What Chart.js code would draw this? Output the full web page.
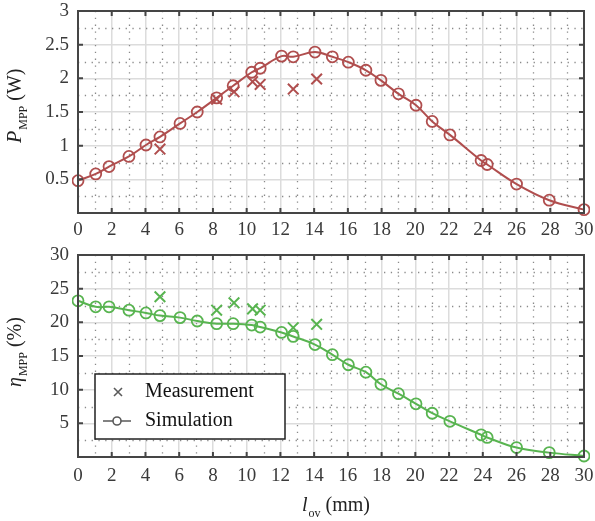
<!DOCTYPE html>
<html>
<head>
<meta charset="utf-8">
<script src="https://cdn.jsdelivr.net/npm/chart.js@4"></script>
<style>
    body { margin: 0; background: #fff; }
    canvas { position: absolute; left: 0; }
</style>
</head>
<body>
<canvas id="power-chart" width="595" height="245" style="top:0"></canvas>
<canvas id="eff-chart" width="595" height="276" style="top:245px"></canvas>
<script>
// overlap length l_ov (mm)
var lovSim = [0, 1.05, 1.84, 3.02, 4.03, 4.86, 6.05, 7.07, 8.22, 9.2, 10.3, 10.8, 12.07, 12.76, 14.05,
    15.08, 16.03, 17.07, 17.96, 19.0, 20.04, 21.0, 22.05, 23.9, 24.26, 26.0, 27.94, 30];
var pSim = [0.48, 0.58, 0.69, 0.84, 1.01, 1.13, 1.33, 1.5, 1.71, 1.89, 2.09, 2.15, 2.33, 2.32, 2.39,
    2.32, 2.24, 2.12, 1.97, 1.77, 1.6, 1.36, 1.16, 0.78, 0.72, 0.43, 0.19, 0.05];
var etaSim = [23.2, 22.3, 22.3, 21.8, 21.4, 21.0, 20.7, 20.2, 19.8, 19.8, 19.6, 19.3, 18.5, 17.9, 16.7,
    15.2, 13.7, 12.6, 10.8, 9.4, 7.9, 6.5, 5.3, 3.3, 2.9, 1.4, 0.65, 0.15];

var lovMeas = [4.86, 8.22, 9.25, 10.35, 10.8, 12.76, 14.15];
var pMeas = [0.95, 1.69, 1.8, 1.95, 1.91, 1.84, 1.99];
var etaMeas = [23.8, 21.8, 22.9, 22.0, 21.8, 19.2, 19.7];

var xTicks = [0, 2, 4, 6, 8, 10, 12, 14, 16, 18, 20, 22, 24, 26, 28, 30];
var pTicks = [0.5, 1, 1.5, 2, 2.5, 3];
var etaTicks = [5, 10, 15, 20, 25, 30];

var SERIF = "'Liberation Serif', 'DejaVu Serif', serif";
var RED = "#b04e4e";
var GREEN = "#58b450";

function pts(xs, ys) {
    return xs.map(function (x, i) { return { x: x, y: ys[i] }; });
}

// draw text with italic symbol + subscript + normal rest
function drawLabel(ctx, sym, sub, rest) {
    ctx.textBaseline = "alphabetic";
    ctx.textAlign = "left";
    ctx.font = "italic 20px " + SERIF;
    ctx.fillText(sym, 0, 0);
    var w = ctx.measureText(sym).width;
    ctx.font = "12px " + SERIF;
    ctx.fillText(sub, w + 1, 6);
    w += ctx.measureText(sub).width + 1;
    ctx.font = "20px " + SERIF;
    ctx.fillText(rest, w, 0);
}

var framePlugin = {
    id: "frame",
    beforeDatasetsDraw: function (chart, args, o) {
        var ctx = chart.ctx, a = chart.chartArea;
        var xs = chart.scales.x, ys = chart.scales.y;
        ctx.save();
        ctx.strokeStyle = "#8a8a8a";
        ctx.lineWidth = 1.3;
        ctx.setLineDash([1.3, 5.5]);
        for (var x = 1; x < 30; x += 2) {
            var px = Math.round(xs.getPixelForValue(x)) + 0.5;
            ctx.beginPath(); ctx.moveTo(px, a.top); ctx.lineTo(px, a.bottom); ctx.stroke();
        }
        for (var y = o.minor; y < o.max; y += o.minor * 2) {
            var py = Math.round(ys.getPixelForValue(y)) + 0.5;
            ctx.beginPath(); ctx.moveTo(a.left, py); ctx.lineTo(a.right, py); ctx.stroke();
        }
        ctx.restore();
    },
    afterDatasetsDraw: function (chart, args, o) {
        var ctx = chart.ctx, a = chart.chartArea;
        var xs = chart.scales.x, ys = chart.scales.y;
        ctx.save();
        ctx.strokeStyle = "#454545";
        ctx.lineWidth = 2;
        ctx.strokeRect(a.left, a.top, a.right - a.left, a.bottom - a.top);
        ctx.beginPath();
        xTicks.forEach(function (t) {
            var px = xs.getPixelForValue(t);
            ctx.moveTo(px, a.top); ctx.lineTo(px, a.top + 5);
            ctx.moveTo(px, a.bottom); ctx.lineTo(px, a.bottom - 5);
        });
        o.ticks.forEach(function (t) {
            var py = ys.getPixelForValue(t);
            ctx.moveTo(a.left, py); ctx.lineTo(a.left + 5, py);
            ctx.moveTo(a.right, py); ctx.lineTo(a.right - 5, py);
        });
        ctx.stroke();

        // y axis title, rotated
        ctx.fillStyle = "#222";
        ctx.translate(21, o.titleY);
        ctx.rotate(-Math.PI / 2);
        drawLabel(ctx, o.sym, "MPP", " (" + o.unit + ")");
        ctx.restore();

        if (o.xTitle) {
            ctx.save();
            ctx.fillStyle = "#222";
            ctx.translate(302, 266);
            drawLabel(ctx, "l", "ov", " (mm)");
            ctx.restore();
        }
        if (o.legend) {
            ctx.save();
            var L = 95, T = 374 - 245;
            ctx.fillStyle = "#fff";
            ctx.fillRect(L, T, 190, 65);
            ctx.strokeStyle = "#222";
            ctx.lineWidth = 1.5;
            ctx.strokeRect(L, T, 190, 65);
            ctx.strokeStyle = "#5a5a5a";
            ctx.lineWidth = 1.6;
            // cross marker
            ctx.beginPath();
            ctx.moveTo(118 - 4, T + 18 - 4); ctx.lineTo(118 + 4, T + 18 + 4);
            ctx.moveTo(118 + 4, T + 18 - 4); ctx.lineTo(118 - 4, T + 18 + 4);
            ctx.stroke();
            // line with circle
            ctx.beginPath();
            ctx.moveTo(103, T + 47); ctx.lineTo(113, T + 47);
            ctx.moveTo(121, T + 47); ctx.lineTo(131, T + 47);
            ctx.stroke();
            ctx.beginPath();
            ctx.arc(117, T + 47, 4, 0, Math.PI * 2);
            ctx.stroke();
            ctx.fillStyle = "#111";
            ctx.font = "20px " + SERIF;
            ctx.textBaseline = "middle";
            ctx.fillText("Measurement", 145, T + 18);
            ctx.fillText("Simulation", 145, T + 47);
            ctx.restore();
        }
    },
};

function makeChart(id, color, meas, sim, yMax, yTicks, frameOpts, pad, xHeight, tickPad) {
    var ctx = document.getElementById(id).getContext("2d");
    return new Chart(ctx, {
        type: "line",
        data: {
            datasets: [
                {
                    label: "Measurement",
                    data: meas,
                    showLine: false,
                    pointStyle: "crossRot",
                    pointRadius: 7.5,
                    pointBorderWidth: 2,
                    borderColor: color,
                    backgroundColor: color,
                    clip: 8,
                },
                {
                    label: "Simulation",
                    data: sim,
                    borderColor: color,
                    borderWidth: 2,
                    tension: 0.4,
                    pointStyle: "circle",
                    pointRadius: 5.5,
                    pointBorderWidth: 1.8,
                    pointBackgroundColor: "rgba(0,0,0,0)",
                    clip: 6,
                },
            ],
        },
        options: {
            responsive: false,
            animation: false,
            layout: { padding: pad },
            plugins: {
                legend: { display: false },
                tooltip: { enabled: false },
                frame: frameOpts,
            },
            scales: {
                x: {
                    type: "linear",
                    min: 0,
                    max: 30,
                    afterBuildTicks: function (s) {
                        s.ticks = xTicks.map(function (v) { return { value: v }; });
                    },
                    afterFit: function (s) {
                        s.height = xHeight;
                        s.paddingLeft = 0;
                        s.paddingRight = 0;
                    },
                    grid: { color: "#dcdcdc", lineWidth: 1.5, drawTicks: false },
                    border: { display: false },
                    ticks: {
                        padding: tickPad,
                        color: "#3a3a3a",
                        font: { family: SERIF, size: 19 },
                        maxRotation: 0,
                    },
                },
                y: {
                    min: 0,
                    max: yMax,
                    afterBuildTicks: function (s) {
                        s.ticks = [0].concat(yTicks).map(function (v) { return { value: v }; });
                    },
                    afterFit: function (s) {
                        s.width = 78;
                        s.paddingTop = 0;
                        s.paddingBottom = 0;
                    },
                    grid: { color: "#dcdcdc", lineWidth: 1.5, drawTicks: false },
                    border: { display: false },
                    ticks: {
                        padding: 9,
                        color: "#3a3a3a",
                        font: { family: SERIF, size: 19 },
                        callback: function (v) { return v === 0 ? "" : String(v); },
                    },
                },
            },
        },
        plugins: [framePlugin],
    });
}

makeChart("power-chart", RED, pts(lovMeas, pMeas), pts(lovSim, pSim), 3, pTicks,
    { minor: 0.25, max: 3, ticks: pTicks, sym: "P", unit: "W", titleY: 143 },
    { left: 0, right: 11, top: 11, bottom: 0 }, 32, 6);

makeChart("eff-chart", GREEN, pts(lovMeas, etaMeas), pts(lovSim, etaSim), 30, etaTicks,
    { minor: 2.5, max: 30, ticks: etaTicks, sym: "\u03B7", unit: "%", titleY: 142, xTitle: true, legend: true },
    { left: 0, right: 11, top: 10, bottom: 0 }, 64, 8);
</script>
</body>
</html>
